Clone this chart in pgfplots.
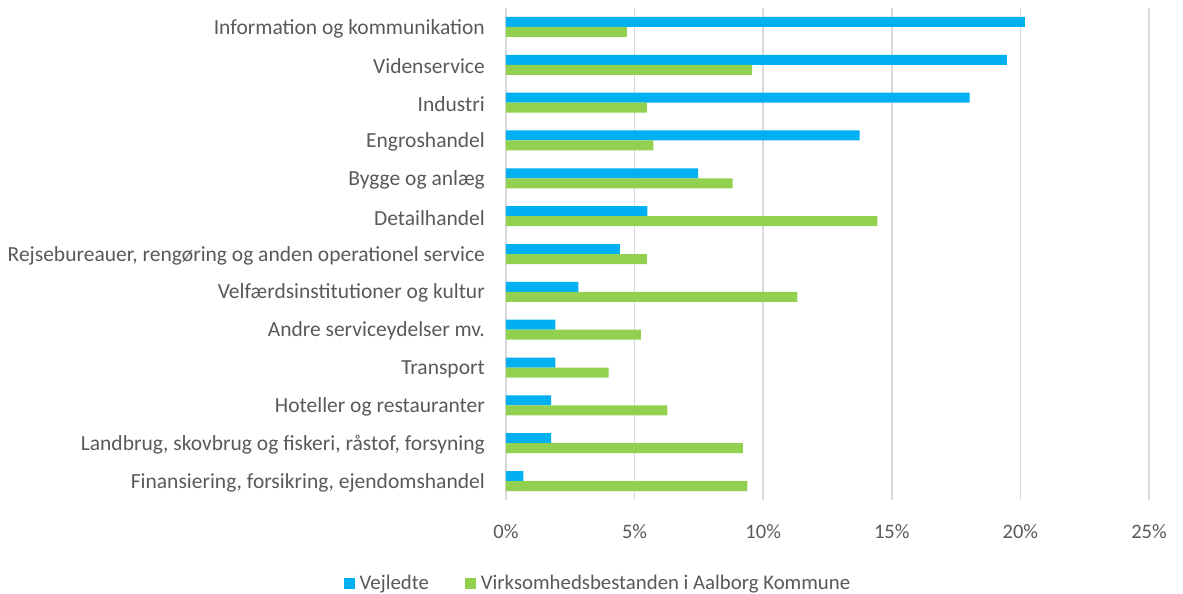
\documentclass[border=0pt]{standalone}
\usepackage{pgfplots}
\pgfplotsset{compat=1.18}
\usepackage{fontspec}
\setmainfont{Carlito}
\definecolor{cblue}{HTML}{00B0F0}
\definecolor{cgreen}{HTML}{92D050}
\definecolor{ctext}{HTML}{595959}
\definecolor{cgrid}{HTML}{D9D9D9}
\begin{document}
\begin{tikzpicture}[x=1pt,y=1pt]
\path[use as bounding box] (0,0) rectangle (1183,594);
\begin{axis}[
  at={(506pt,94pt)}, anchor=south west,
  scale only axis, width=643pt, height=492pt,
  xbar, bar width=10pt,
  xmin=0, xmax=25,
  ymin=-0.5, ymax=12.5, y dir=reverse,
  xtick={0,5,10,15,20,25},
  xticklabels={0\%,5\%,10\%,15\%,20\%,25\%},
  ytick={0,...,12},
  yticklabels={Information og kommunikation,Videnservice,Industri,Engroshandel,Bygge og anlæg,Detailhandel,{Rejsebureauer, rengøring og anden operationel service},Velfærdsinstitutioner og kultur,Andre serviceydelser mv.,Transport,Hoteller og restauranter,{Landbrug, skovbrug og fiskeri, råstof, forsyning},{Finansiering, forsikring, ejendomshandel}},
  major tick length=0pt,
  axis line style={draw=none},
  xmajorgrids, grid style={cgrid, line width=1.5pt},
  yticklabel style={font=\fontsize{21.5}{25}\selectfont, text=ctext, inner sep=0pt, xshift=-21pt, yshift=-1.5pt},
  xticklabel style={font=\fontsize{20.5}{24}\selectfont, text=ctext, inner sep=0pt, yshift=-24pt},
  legend style={at={(0.143,-0.169)}, anchor=center, draw=none, legend columns=2,
    font=\fontsize{20.8}{24}\selectfont, text=ctext,
    /tikz/every even column/.append style={column sep=34pt}},
  legend image code/.code={\fill[#1,draw=none] (0pt,-5.5pt) rectangle (11pt,5.5pt); \path (14pt,0pt);},
]
\addplot[fill=cblue, draw=none, bar shift=5pt] coordinates {
(20.17,0) (19.47,1) (18.03,2) (13.75,3) (7.47,4) (5.50,5) (4.43,6) (2.81,7) (1.92,8) (1.92,9) (1.75,10) (1.75,11) (0.68,12)};
\addlegendentry{Vejledte}
\addplot[fill=cgreen, draw=none, bar shift=-5pt] coordinates {
(4.70,0) (9.57,1) (5.48,2) (5.73,3) (8.81,4) (14.44,5) (5.48,6) (11.33,7) (5.24,8) (3.99,9) (6.27,10) (9.21,11) (9.38,12)};
\addlegendentry{Virksomhedsbestanden i Aalborg Kommune}
\end{axis}
\end{tikzpicture}
\end{document}
